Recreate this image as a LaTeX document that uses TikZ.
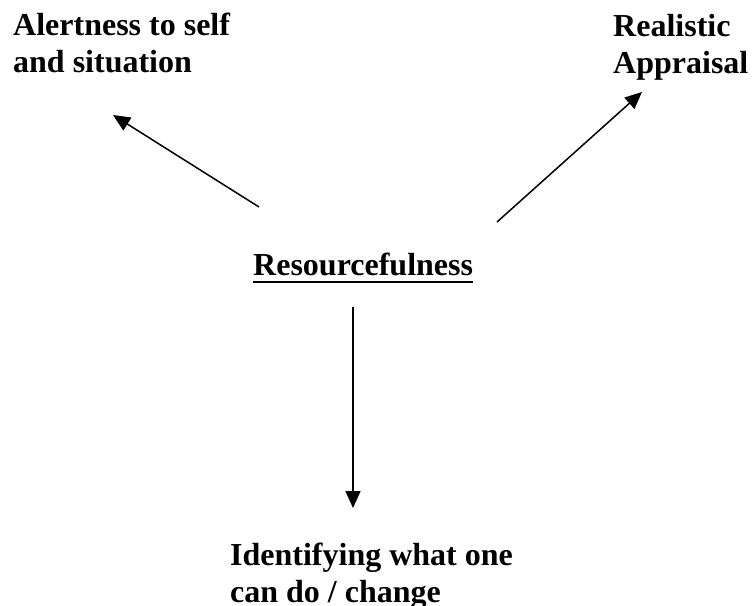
\documentclass[tikz,border=0pt]{standalone}
\usepackage{fontspec}
\setmainfont{Liberation Serif}
\usetikzlibrary{calc,arrows.meta}
\tikzset{
  label/.style={anchor=base west, inner sep=0pt, align=left,
    font=\fontsize{32}{37}\selectfont\bfseries},
  arr/.style={line width=1.5pt, -{Triangle[length=17pt,width=15pt]}}
}
\begin{document}
\begin{tikzpicture}[x=1pt,y=-1pt]
  \useasboundingbox (0,0) rectangle (752,605);
  % labels (base anchor sits on the last line's baseline)
  \node[label] (alert) at (13,72) {Alertness to self\\and situation};
  \node[label] (real) at (613,73) {Realistic\\Appraisal};
  \node[label] (res) at (253,275) {Resourcefulness};
  \node[label] (ident) at (230,602) {Identifying what one\\can do / change};
  \draw[line width=2.2pt] ($(res.base west)+(0,7)$) -- ($(res.base east)+(0,7)$);
  % arrow end points
  \coordinate (lt) at (259,207);
  \coordinate (lh) at (113,115);
  \coordinate (rt) at (497,222);
  \coordinate (rh) at (642,92);
  \coordinate (dt) at (353,307);
  \coordinate (dh) at (353,508);
  \draw[arr] (lt) -- (lh);
  \draw[arr] (rt) -- (rh);
  \draw[arr] (dt) -- (dh);
\end{tikzpicture}
\end{document}
